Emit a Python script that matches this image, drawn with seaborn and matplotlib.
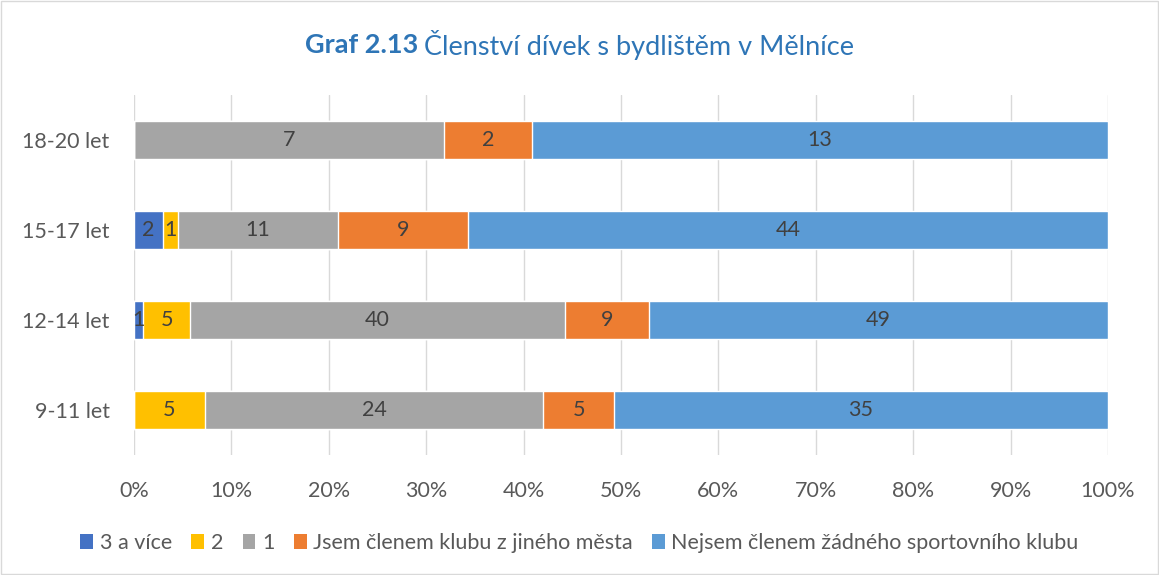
import matplotlib
matplotlib.use("Agg")
import matplotlib.pyplot as plt
import seaborn as sns
import pandas as pd
import numpy as np
from matplotlib.patches import Patch

categories = ["18-20 let", "15-17 let", "12-14 let", "9-11 let"]
series_names = ["3 a více", "2", "1", "Jsem členem klubu z jiného města",
                "Nejsem členem žádného sportovního klubu"]
v_3plus = [0, 2, 1, 0]
v_2 = [0, 1, 5, 5]
v_1 = [7, 11, 40, 24]
v_jine = [2, 9, 9, 5]
v_nejsem = [13, 44, 49, 35]
colors = ["#4472C4", "#FFC000", "#A5A5A5", "#ED7D31", "#5B9BD5"]
xtick_labels = ["0%", "10%", "20%", "30%", "40%", "50%", "60%", "70%", "80%", "90%", "100%"]

sns.set_theme(style="white")
plt.rcParams["font.family"] = ["Lato", "DejaVu Sans"]

values = np.array([v_3plus, v_2, v_1, v_jine, v_nejsem], dtype=float)
totals = values.sum(axis=0)
pct = values / totals * 100
cum = np.cumsum(pct, axis=0)

fig = plt.figure(figsize=(11.59, 5.75), dpi=100)
ax = fig.add_axes([0.1156, 0.209, 0.8404, 0.626])

FS = 15.5

# draw cumulative bars from longest to shortest
for i in range(len(series_names) - 1, -1, -1):
    df = pd.DataFrame({"cat": categories, "val": cum[i]})
    sns.barplot(data=df, x="val", y="cat", orient="h", color=colors[i],
                saturation=1, width=0.42, edgecolor="white", linewidth=1,
                ax=ax, zorder=2)

# labels
for i in range(len(series_names)):
    for j in range(len(categories)):
        if values[i, j] > 0:
            xc = cum[i, j] - pct[i, j] / 2
            ax.text(xc, j, f"{int(values[i, j])}", ha="center", va="center",
                    fontsize=FS, color="#404040", zorder=5)

ax.set_xlim(0, 100)
ax.set_ylim(3.5, -0.5)
ax.set_xticks(np.arange(0, 101, 10))
ax.set_xticklabels(xtick_labels, fontsize=FS, color="#595959")
ax.tick_params(axis="y", labelsize=FS, labelcolor="#595959", length=0, pad=17.5)
ax.tick_params(axis="x", length=0, pad=19)
ax.set_xlabel("")
ax.set_ylabel("")
ax.xaxis.grid(True, color="#D9D9D9", linewidth=1, zorder=0)
ax.set_axisbelow(True)
for s in ax.spines.values():
    s.set_visible(False)

# title
fig.canvas.draw()
renderer = fig.canvas.get_renderer()
tcolor = "#2E75B6"
t1 = fig.text(0, 0.922, "Graf 2.13 ", fontsize=19.5, fontweight="bold", color=tcolor,
              ha="left", va="center")
t2 = fig.text(0, 0.922, "Členství dívek s bydlištěm v Mělníce", fontsize=19.5,
              color=tcolor, ha="left", va="center")
w1 = t1.get_window_extent(renderer).width
w2 = t2.get_window_extent(renderer).width
start = (1159 / 2 - (w1 + w2) / 2) / 1159
t1.set_x(start)
t2.set_x(start + w1 / 1159)

handles = [Patch(facecolor=c, edgecolor="none") for c in colors]
fig.legend(handles, series_names, loc="center", bbox_to_anchor=(0.5, 0.055),
           ncol=5, frameon=False, fontsize=FS, handlelength=0.6, handleheight=0.7,
           handletextpad=0.3, columnspacing=0.9, labelcolor="#595959")

fig.patches.append(plt.Rectangle((0.001, 0.001), 0.998, 0.998, transform=fig.transFigure,
                                 fill=False, edgecolor="#D9D9D9", linewidth=1))
fig.savefig("out.png", dpi=100, facecolor="white")
